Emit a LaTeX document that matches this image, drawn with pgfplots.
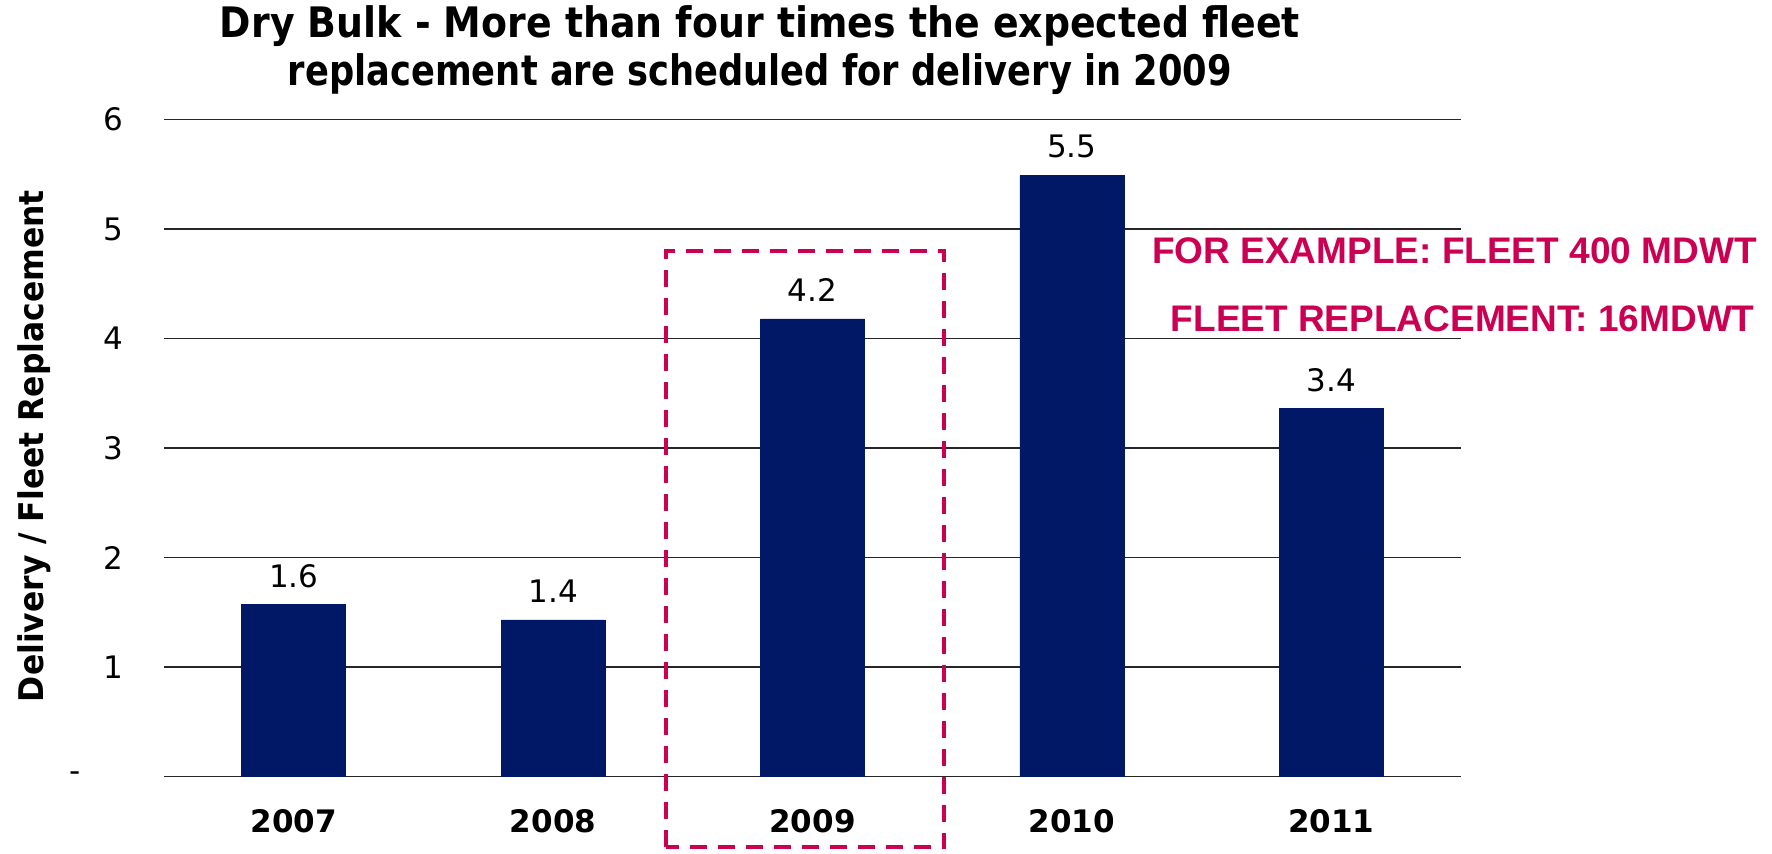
\documentclass[border=0pt]{standalone}
\usepackage{pgfplots}
\pgfplotsset{compat=1.18}
\usepackage{fontspec}
\setmainfont{DejaVu Sans}
\newfontfamily\arialfont{Liberation Sans}
\definecolor{navy}{RGB}{0,24,102}
\definecolor{crim}{RGB}{204,0,82}
\begin{document}
\begin{tikzpicture}
\path[use as bounding box] (0,0) rectangle (886pt,426.5pt);
\begin{axis}[
  at={(82pt,38.25pt)}, anchor=south west,
  scale only axis, width=648.5pt, height=328.5pt,
  xmin=-0.5, xmax=4.5, ymin=0, ymax=6,
  ybar, bar width=52pt,
  axis line style={draw=none},
  major tick length=0pt,
  ymajorgrids, grid style={line width=0.9pt, color=black!85},
  xtick={0,1,2,3,4}, xticklabels={2007,2008,2009,2010,2011},
  ytick={0,1,2,3,4,5,6}, yticklabels={-\kern21pt,1,2,3,4,5,6},
  yticklabel style={anchor=east, inner sep=0pt, xshift=-20.4pt, font=\fontsize{15.5}{18}\selectfont},
  xticklabel style={anchor=center, inner sep=0pt, yshift=-22.25pt, font=\bfseries\fontsize{15.5}{18}\selectfont},
  clip=false,
  nodes near coords,
  point meta=explicit symbolic,
  every node near coord/.append style={anchor=center, inner sep=0pt, yshift=14.3pt, font=\fontsize{15.5}{18}\selectfont, text=black},
]
\addplot[fill=navy, draw=navy, line width=0.3pt] table[x=x, y=y, meta=lab] {
x y lab
0 1.57 1.6
1 1.43 1.4
2 4.18 4.2
3 5.49 5.5
4 3.36 3.4
};
\draw[crim, line width=1.9pt, dash pattern=on 8.5pt off 5.5pt] (axis cs:1.435,-0.645) rectangle (axis cs:2.507,4.80);
\end{axis}
\node[anchor=base, inner sep=0pt] at (380pt,407.9pt) {\resizebox{540pt}{\height}{\bfseries\fontsize{21}{24}\selectfont Dry Bulk - More than four times the expected fleet}};
\node[anchor=base, inner sep=0pt] at (380pt,383.5pt) {\resizebox{472pt}{\height}{\bfseries\fontsize{21}{24}\selectfont replacement are scheduled for delivery in 2009}};
\node[rotate=90, inner sep=0pt] at (17pt,203.5pt) {\resizebox{256pt}{\height}{\bfseries\fontsize{17}{20}\selectfont Delivery / Fleet Replacement}};
\node[anchor=east, inner sep=0pt, text=crim] at (878.5pt,301pt) {\arialfont\bfseries\fontsize{18.5}{22}\selectfont FOR EXAMPLE: FLEET 400 MDWT};
\node[anchor=east, inner sep=0pt, text=crim] at (877.5pt,267pt) {\arialfont\bfseries\fontsize{18.5}{22}\selectfont FLEET REPLACEMENT: 16MDWT};
\end{tikzpicture}
\end{document}
